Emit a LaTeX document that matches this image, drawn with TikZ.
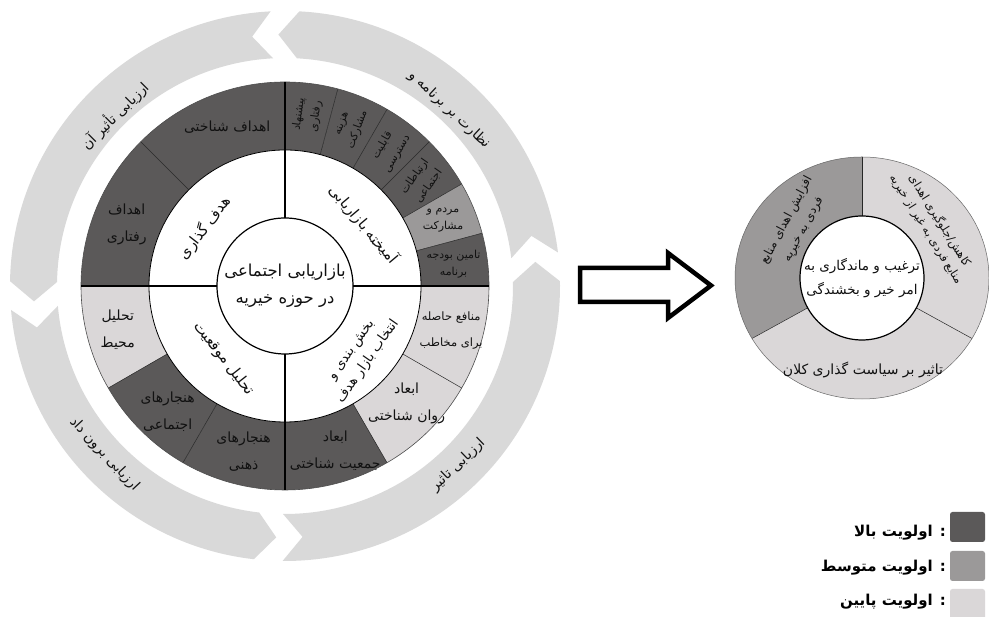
\documentclass[tikz,border=0pt]{standalone}
\usepackage{fontspec}
\newfontfamily\fafont[Script=Arabic]{DejaVu Sans}
\TeXXeTstate=1
\newcommand{\fa}[1]{\beginR #1\endR}
\newcommand{\annsec}[5]{\fill[#1] (#2:#5) arc[start angle=#2,end angle=#3,radius=#5] -- (#3:#4) arc[start angle=#3,end angle=#2,radius=#4] -- cycle;}
\newcommand{\arrseg}[2]{\fill[ringc] (#1:275) -- ({#1+4.5}:251.5) -- (#1:228) arc[start angle=#1,end angle=#2,radius=228] -- ({#2+4.5}:251.5) -- (#2:275) arc[start angle=#2,end angle=#1,radius=275] -- cycle;}
\definecolor{dk}{HTML}{5B5959}
\definecolor{md}{HTML}{9B9999}
\definecolor{lt}{HTML}{DAD7D8}
\definecolor{ringc}{HTML}{D9D9D9}
\definecolor{txt}{HTML}{111111}
\tikzset{
  lab/.style={font=\fafont\fontsize{14}{27}\selectfont, align=center, inner sep=0pt, text=txt},
  smlab/.style={font=\fafont\fontsize{11}{17}\selectfont, align=center, inner sep=0pt, text=txt},
  midlab/.style={font=\fafont\fontsize{15}{22}\selectfont, align=center, inner sep=0pt, text=txt},
  ringlab/.style={font=\fafont\fontsize{14}{16}\selectfont, align=center, inner sep=0pt, text=txt},
  cenlab/.style={font=\fafont\fontsize{16.5}{27}\selectfont, align=center, inner sep=0pt, text=txt},
  divline/.style={draw=black!85, line width=0.5pt},
  crossline/.style={draw=black, line width=1.1pt},
  legtxt/.style={font=\fafont\bfseries\fontsize{15}{16}\selectfont, anchor=east, inner sep=0pt, text=black},
  legbox/.style={rounded corners=2.5pt}
}
\begin{document}
\begin{tikzpicture}[x=1pt,y=1pt]
\useasboundingbox (0,0) rectangle (989,617);
\fill[white] (0,0) rectangle (989,617);
% ---------------- left wheel ----------------
\begin{scope}[shift={(285,331)}]
  % outer arrow ring
  \arrseg{7}{87}
  \arrseg{93}{179}
  \arrseg{185}{263.5}
  \arrseg{269.5}{361}
  \node[ringlab, rotate=-43] (o1) at (47:241) {\fa{نظارت بر برنامه و}};
  \node[ringlab, rotate=45] (o2) at (135:241) {\fa{ارزیابی تأثیر آن}};
  \node[ringlab, rotate=-47] (o3) at (223:247) {\fa{ارزیابی برون داد}};
  \node[ringlab, rotate=44] (o4) at (314:249) {\fa{ارزیابی تاثیر}};
  % sector ring
  \annsec{dk}{90}{135}{136}{204}
  \annsec{dk}{135}{180}{136}{204}
  \annsec{dk}{75}{90}{136}{204}
  \annsec{dk}{60}{75}{136}{204}
  \annsec{dk}{45}{60}{136}{204}
  \annsec{dk}{30}{45}{136}{204}
  \annsec{md}{15}{30}{136}{204}
  \annsec{dk}{0}{15}{136}{204}
  \annsec{lt}{-30}{0}{136}{204}
  \annsec{lt}{-60}{-30}{136}{204}
  \annsec{dk}{-90}{-60}{136}{204}
  \annsec{lt}{180}{210}{136}{204}
  \annsec{dk}{210}{240}{136}{204}
  \annsec{dk}{240}{270}{136}{204}
  \foreach \a in {135,75,60,45,30,15,-30,-60,210,240}
    \draw[divline] (\a:136) -- (\a:204);
  \draw[draw=black!70, line width=0.6pt] (0,0) circle[radius=204];
  \fill[white] (0,0) circle[radius=136];
  \draw[black, line width=0.8pt] (0,0) circle[radius=136];
  \foreach \a in {0,90,180,270}
    \draw[crossline] (\a:68) -- (\a:204);
  \node[circle, draw=black, line width=1.2pt, fill=white, minimum size=136pt, inner sep=0pt] (core) at (0,0) {};
  \node[cenlab] (coret) at (0,0) {\fa{بازاریابی اجتماعی}\\\fa{در حوزه خیریه}};
  % middle ring labels
  \node[midlab, rotate=52] (m1) at (144:99) {\fa{هدف گذاری}};
  \node[midlab, rotate=-50] (m2) at (38:100) {\fa{آمیخته بازاریابی}};
  \node[midlab, rotate=55, font=\fafont\fontsize{13.5}{20}\selectfont] (m3) at (-43:103) {\fa{بخش بندی و}\\\fa{انتخاب بازار هدف}};
  \node[midlab, rotate=-52] (m4) at (230:95) {\fa{تحلیل موقعیت}};
  % sector labels
  \node[lab] (s1) at (110:169) {\fa{اهداف شناختی}};
  \node[lab] (s2) at (158.6:170) {\fa{اهداف}\\\fa{رفتاری}};
  \node[lab] (s3) at (194.8:173) {\fa{تحلیل}\\\fa{محیط}};
  \node[lab] (s4) at (227:172) {\fa{هنجارهای}\\\fa{اجتماعی}};
  \node[lab] (s5) at (256:171) {\fa{هنجارهای}\\\fa{ذهنی}};
  \node[lab] (s6) at (287:172) {\fa{ابعاد}\\\fa{جمعیت شناختی}};
  \node[lab] (s7) at (316:169) {\fa{ابعاد}\\\fa{روان شناختی}};
  \node[smlab, font=\fafont\fontsize{11.5}{26}\selectfont] (s8) at (345:172) {\fa{منافع حاصله}\\\fa{برای مخاطب}};
  \node[smlab] (s9) at (7.5:170) {\fa{تامین بودجه}\\\fa{برنامه}};
  \node[smlab] (s10) at (22.5:171) {\fa{مردم و}\\\fa{مشارکت}};
  \node[smlab, rotate=55] (s11) at (37.5:172) {\fa{ارتباطات}\\\fa{اجتماعی}};
  \node[smlab, rotate=60] (s12) at (52.5:172) {\fa{قابلیت}\\\fa{دسترسی}};
  \node[smlab, rotate=70] (s13) at (67.5:172) {\fa{هزینه}\\\fa{مشارکت}};
  \node[smlab, rotate=82] (s14) at (82.5:172) {\fa{پیشنهاد}\\\fa{رفتاری}};
\end{scope}
% ---------------- hollow arrow ----------------
\draw[black, line width=4.5pt, line join=miter] (580,349) -- (668,349) -- (668,364) -- (711,331.5) -- (668,299) -- (668,315) -- (580,315) -- cycle;
% ---------------- right wheel ----------------
\begin{scope}[shift={(862,339)}]
  \fill[md] (90:127 and 121) arc[start angle=90,end angle=210,x radius=127,y radius=121] -- (0,0) -- cycle;
  \fill[lt] (210:127 and 121) arc[start angle=210,end angle=330,x radius=127,y radius=121] -- (0,0) -- cycle;
  \fill[lt] (330:127 and 121) arc[start angle=330,end angle=450,x radius=127,y radius=121] -- (0,0) -- cycle;
  \foreach \a in {90,210,330}
    \draw[divline] (0,0) -- (\a:127 and 121);
  \draw[draw=black!60, line width=0.5pt] (0,0) ellipse[x radius=127, y radius=121];
  \node[circle, draw=black, line width=1.2pt, fill=white, minimum size=124pt, inner sep=0pt] (core2) at (0,0) {};
  \node[cenlab, font=\fafont\fontsize{13.5}{24}\selectfont] (core2t) at (0,0) {\fa{ترغیب و ماندگاری به}\\\fa{امر خیر و بخشندگی}};
  \node[lab, rotate=62, font=\fafont\fontsize{12}{19}\selectfont] (r1) at (-67,53) {\fa{افزایش اهدای منابع}\\\fa{فردی به خیریه}};
  \node[lab, rotate=-58, font=\fafont\fontsize{11.5}{16}\selectfont] (r2) at (71,53) {\fa{کاهش/جلوگیری اهدای}\\\fa{منابع فردی به غیر از خیریه}};
  \node[lab, font=\fafont\fontsize{14}{16}\selectfont] (r3) at (1,-92) {\fa{تاثیر بر سیاست گذاری کلان}};
\end{scope}
% ---------------- legend ----------------
\fill[dk, legbox] (950,75) rectangle (985,105);
\fill[md, legbox] (950,36) rectangle (985,66);
\fill[lt, legbox] (950,-3) rectangle (985,28);
\node[legtxt] (l1) at (946,84) {\fa{: اولویت بالا}};
\node[legtxt] (l2) at (946,49) {\fa{: اولویت متوسط}};
\node[legtxt] (l3) at (946,15) {\fa{: اولویت پایین}};
\end{tikzpicture}
\end{document}
